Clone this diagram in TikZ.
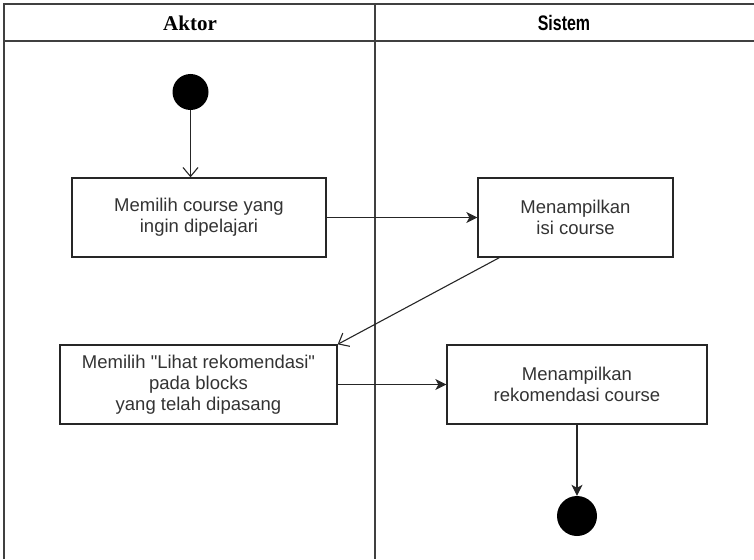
\documentclass[tikz,border=0pt]{standalone}
\usepackage{fontspec}
\usepackage{graphicx}
\setmainfont{Liberation Sans}
% plain family without TeX input mapping, so " stays a straight quote
\newfontfamily\boxfont{Liberation Sans}
\newfontfamily\headserif{Liberation Serif}
\usetikzlibrary{arrows.meta}

\begin{document}
\begin{tikzpicture}[x=1pt,y=-1pt,
  lane/.style={draw=black!75, line width=1.7pt},
  action/.style={draw=black!85, line width=1.3pt, rectangle, align=center,
    inner sep=0pt, font=\boxfont\fontsize{18.5}{21}\selectfont, text=black!80},
  initial/.style={circle, fill=black, inner sep=0pt, minimum size=36pt},
  final/.style={circle, fill=black, inner sep=0pt, minimum size=40pt},
  flow/.style={draw=black!85, line width=1.1pt,
    -{Stealth[length=11pt,width=11pt,inset=3pt]}},
  openflow/.style={draw=black!85, line width=1.1pt,
    -{Straight Barb[length=9pt,width=15pt]}},
]
\useasboundingbox (0,0) rectangle (754,559);

% swimlane frame
\coordinate (tl) at (4,4);
\coordinate (tr) at (754,4);
\coordinate (hl) at (4,41);
\coordinate (hr) at (754,41);
\coordinate (bl) at (4,559);
\coordinate (dt) at (375,4);
\coordinate (db) at (375,559);
\draw[lane] (bl) -- (tl) -- (tr);
\draw[lane] (hl) -- (hr);
\draw[lane] (dt) -- (db);

% lane headers
\node (hA) at (190,23) {\headserif\bfseries\fontsize{21}{21}\selectfont Aktor};
\node (hS) at (564,23) {\scalebox{0.76}[1]{\bfseries\fontsize{21}{21}\selectfont Sistem}};

% activity nodes
\node[initial] (start) at (190.5,92) {};
\node[action, minimum width=254pt, minimum height=79pt] (a1) at (199,217.5)
  {Memilih course yang\\ingin dipelajari};
\node[action, minimum width=195pt, minimum height=79pt] (s1) at (575.5,217.5)
  {Menampilkan\\isi course};
\node[action, minimum width=277pt, minimum height=79pt] (a2) at (198.5,384.5)
  {Memilih "Lihat rekomendasi"\\pada blocks\\yang telah dipasang};
\node[action, minimum width=260pt, minimum height=79pt] (s2) at (577,384.5)
  {Menampilkan\\rekomendasi course};
\node[final] (end) at (577,516) {};

% control flow
\draw[openflow] (start) -- (start |- a1.north);
\draw[flow] (a1.east) -- (s1.west);
\draw[openflow] ([xshift=22pt]s1.south west) -- (a2.north east);
\draw[flow] (a2.east) -- (s2.west);
\draw[flow] (s2.south) -- (end.north);
\end{tikzpicture}
\end{document}
